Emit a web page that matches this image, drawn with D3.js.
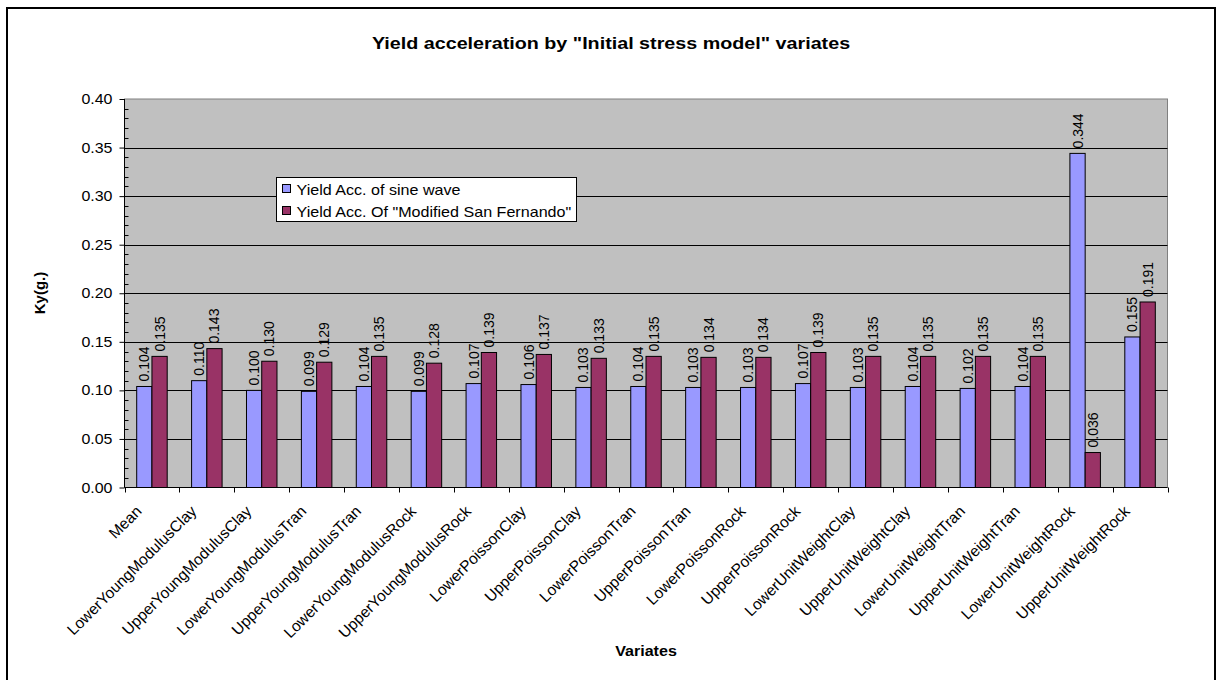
<!DOCTYPE html>
<html>
<head>
<meta charset="utf-8">
<script src="https://cdn.jsdelivr.net/npm/d3@7"></script>
<style>
  html, body { margin: 0; padding: 0; background: #fff; }
  svg { display: block; font-family: Arial, "Liberation Sans", sans-serif; }
</style>
</head>
<body>
<svg id="chart" width="1219" height="680"></svg>
<script>
// Variates of the initial stress model
const categories = [
  "Mean",
  "LowerYoungModulusClay", "UpperYoungModulusClay",
  "LowerYoungModulusTran", "UpperYoungModulusTran",
  "LowerYoungModulusRock", "UpperYoungModulusRock",
  "LowerPoissonClay", "UpperPoissonClay",
  "LowerPoissonTran", "UpperPoissonTran",
  "LowerPoissonRock", "UpperPoissonRock",
  "LowerUnitWeightClay", "UpperUnitWeightClay",
  "LowerUnitWeightTran", "UpperUnitWeightTran",
  "LowerUnitWeightRock", "UpperUnitWeightRock"
];

// Yield acceleration, sine wave input
const sineWave = [0.104, 0.110, 0.100, 0.099, 0.104, 0.099, 0.107, 0.106, 0.103, 0.104,
                  0.103, 0.103, 0.107, 0.103, 0.104, 0.102, 0.104, 0.344, 0.155];

// Yield acceleration, "Modified San Fernando" input
const sanFernando = [0.135, 0.143, 0.130, 0.129, 0.135, 0.128, 0.139, 0.137, 0.133, 0.135,
                     0.134, 0.134, 0.139, 0.135, 0.135, 0.135, 0.135, 0.036, 0.191];

const seriesNames = ["Yield Acc. of sine wave", "Yield Acc. Of \"Modified San Fernando\""];
const seriesColors = ["#9999FF", "#993366"];
const yTicks = [0, 0.05, 0.10, 0.15, 0.20, 0.25, 0.30, 0.35, 0.40];

const svg = d3.select("#chart");

// horizontal text drawn slightly widened, like the spreadsheet's rendering
function wideText(parent, x, y, str, opts = {}) {
  return parent.append("text")
    .attr("transform", `translate(${x},${y}) scale(${opts.sx || 1.15},1)`)
    .attr("text-anchor", opts.anchor || "start")
    .attr("font-size", opts.size || 14)
    .attr("font-weight", opts.weight || "normal")
    .attr("fill", "#000")
    .text(str);
}

// outer chart frame
svg.append("rect")
  .attr("x", 7).attr("y", 8).attr("width", 1208).attr("height", 690)
  .attr("fill", "#fff").attr("stroke", "#000").attr("stroke-width", 2);

const plot = { left: 124.5, right: 1167.5, top: 99, bottom: 487.5 };

const x = d3.scaleBand()
  .domain(categories)
  .range([plot.left, plot.right])
  .paddingInner(0).paddingOuter(0);

const y = d3.scaleLinear().domain([0, 0.40]).range([plot.bottom, plot.top]);

const bw = x.bandwidth() / 3.6;
const gap = (x.bandwidth() - 2 * bw) / 2;

// plot area background
svg.append("rect")
  .attr("x", plot.left).attr("y", plot.top)
  .attr("width", plot.right - plot.left).attr("height", plot.bottom - plot.top)
  .attr("fill", "#C0C0C0").attr("stroke", "#808080").attr("stroke-width", 1);

// horizontal gridlines
svg.append("g")
  .selectAll("line")
  .data(yTicks.filter(t => t > 0 && t < 0.40))
  .join("line")
  .attr("x1", plot.left).attr("x2", plot.right)
  .attr("y1", d => Math.round(y(d)) + 0.5).attr("y2", d => Math.round(y(d)) + 0.5)
  .attr("stroke", "#000").attr("stroke-width", 1);

// bars
const series = [sineWave, sanFernando];
series.forEach((vals, si) => {
  const g = svg.append("g");
  g.selectAll("rect")
    .data(vals)
    .join("rect")
    .attr("x", (d, i) => x(categories[i]) + gap + si * bw)
    .attr("y", d => y(d))
    .attr("width", bw)
    .attr("height", d => y(0) - y(d))
    .attr("fill", seriesColors[si])
    .attr("stroke", "#000").attr("stroke-width", 1);

  // value labels, rotated
  g.selectAll("text")
    .data(vals)
    .join("text")
    .attr("transform", (d, i) => {
      const cx = x(categories[i]) + gap + si * bw + bw / 2;
      return `translate(${cx + 5},${y(d) - 5}) rotate(-90)`;
    })
    .attr("text-anchor", "start")
    .attr("font-size", 14)
    .attr("fill", "#000")
    .text(d => d.toFixed(3));
});

// y axis line, major ticks outward
const yAxis = d3.axisLeft(y)
  .tickValues(yTicks)
  .tickFormat("")
  .tickSize(5);
const yg = svg.append("g")
  .attr("transform", `translate(${plot.left},0)`)
  .call(yAxis);
yg.select(".domain").attr("stroke", "#000").attr("d", `M0,${plot.top}V${plot.bottom}`);
yg.selectAll(".tick line").attr("stroke", "#000");

// y tick labels
const ylab = svg.append("g");
yTicks.forEach(t => {
  wideText(ylab, plot.left - 12, y(t) + 5, d3.format(".2f")(t), { anchor: "end", size: 14, sx: 1.14 });
});

// minor ticks on the y axis, pointing inward
const minor = d3.range(0, 41).map(v => v / 100).filter(v => Math.round(v * 100) % 5 !== 0);
svg.append("g")
  .selectAll("line")
  .data(minor)
  .join("line")
  .attr("x1", plot.left).attr("x2", plot.left + 4)
  .attr("y1", d => Math.round(y(d)) + 0.5).attr("y2", d => Math.round(y(d)) + 0.5)
  .attr("stroke", "#000");

// x axis
const xg = svg.append("g").attr("transform", `translate(0,${plot.bottom})`);
xg.append("line")
  .attr("x1", plot.left).attr("x2", plot.right)
  .attr("y1", 0).attr("y2", 0).attr("stroke", "#000");
const boundaries = categories.map(c => x(c)).concat([plot.right]);
xg.selectAll("line.tk")
  .data(boundaries)
  .join("line")
  .attr("class", "tk")
  .attr("x1", d => Math.round(d) + 0.5).attr("x2", d => Math.round(d) + 0.5)
  .attr("y1", 0).attr("y2", 5).attr("stroke", "#000");
xg.selectAll("text")
  .data(categories)
  .join("text")
  .attr("transform", d => `translate(${x(d) + x.bandwidth() / 2 - 17},${17}) rotate(-45)`)
  .attr("text-anchor", "end")
  .attr("dy", "0.7em")
  .attr("font-size", 15.5)
  .attr("fill", "#000")
  .text(d => d);

// title
wideText(svg, 611, 49, "Yield acceleration by \"Initial stress model\" variates",
  { anchor: "middle", size: 17, weight: "bold", sx: 1.16 });

// axis titles
svg.append("text")
  .attr("transform", "translate(45,293) rotate(-90)")
  .attr("text-anchor", "middle")
  .attr("font-size", 15).attr("font-weight", "bold")
  .text("Ky(g.)");

wideText(svg, 646, 656, "Variates", { anchor: "middle", size: 14, weight: "bold", sx: 1.15 });

// legend
const lg = svg.append("g").attr("transform", "translate(276.5,177.5)");
lg.append("rect")
  .attr("width", 300).attr("height", 44)
  .attr("fill", "#fff").attr("stroke", "#000");
seriesNames.forEach((name, i) => {
  lg.append("rect")
    .attr("x", 6).attr("y", 7 + i * 22)
    .attr("width", 8).attr("height", 8)
    .attr("fill", seriesColors[i]).attr("stroke", "#000");
  wideText(lg, 20, 17 + i * 22, name, { size: 14, sx: 1.15 });
});
</script>
</body>
</html>
